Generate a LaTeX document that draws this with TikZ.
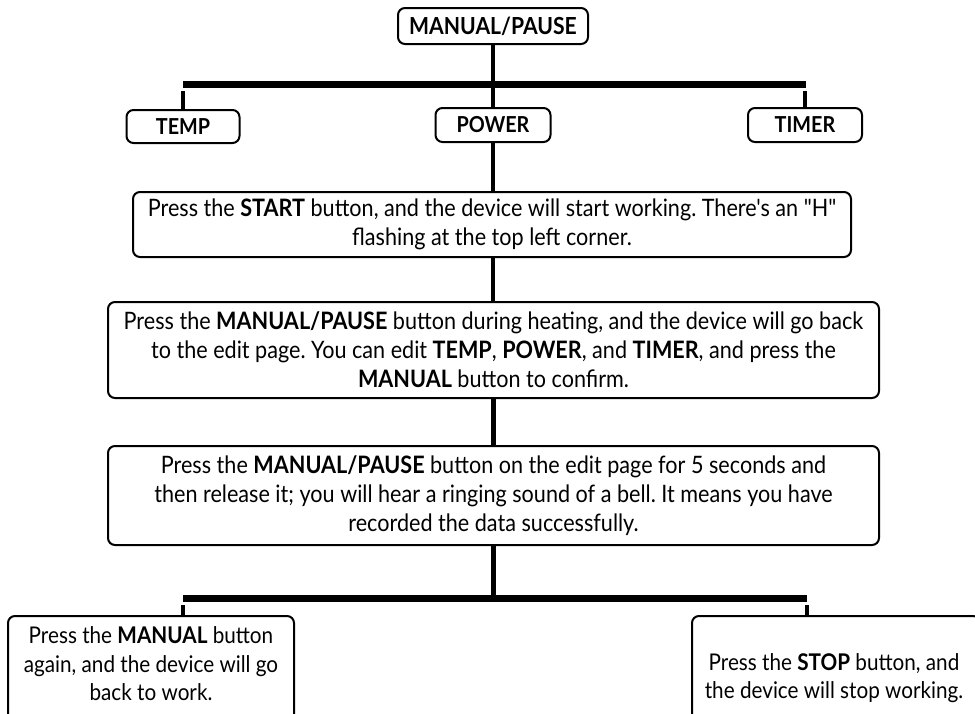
\documentclass[tikz,border=0pt]{standalone}
\usepackage{fontspec}
\setmainfont{Lato}[FakeStretch=0.9,Ligatures=TeXOff]
\usetikzlibrary{fit}
\frenchspacing
\begin{document}
\begin{tikzpicture}[x=1pt,y=-1pt,
  box/.style={draw=black,line width=2pt,rounded corners=7pt,fill=white,inner sep=0pt,align=center,font=\fontsize{24}{29}\selectfont},
  lbl/.style={box,font=\fontsize{22}{24}\selectfont\bfseries},
  txt/.style={inner sep=0pt,align=center,font=\fontsize{23}{28.5}\selectfont},
  conn/.style={line width=4.5pt},
  bar/.style={line width=7pt},
  stub/.style={line width=4.5pt}]
\useasboundingbox[fill=white] (0,0) rectangle (975,713);
\clip (0,0) rectangle (975,713);
% nodes
\node[lbl,minimum width=190pt,minimum height=36pt,font=\fontsize{23.5}{24}\selectfont\bfseries] (top) at (493,26) {MANUAL/PAUSE};
\node[lbl,minimum width=113pt,minimum height=33pt] (temp) at (183,126.5) {TEMP};
\node[lbl,minimum width=115pt,minimum height=34pt] (power) at (493,125) {POWER};
\node[lbl,minimum width=114pt,minimum height=34pt] (timer) at (805,125) {TIMER};
\node[box,minimum width=718pt,minimum height=65pt] (start) at (492,224.5) {Press the \textbf{START} button, and the device will start working. There's an "H"\\flashing at the top left corner.};
\node[box,minimum width=771pt,minimum height=96pt] (pause) at (493.5,350) {Press the \textbf{MANUAL/PAUSE} button during heating, and the device will go back\\to the edit page. You can edit \textbf{TEMP}, \textbf{POWER}, and \textbf{TIMER}, and press the\\\textbf{MANUAL} button to confirm.};
\node[box,minimum width=771pt,minimum height=99pt] (record) at (493.5,495.5) {Press the \textbf{MANUAL/PAUSE} button on the edit page for 5 seconds and\\then release it; you will hear a ringing sound of a bell. It means you have\\recorded the data successfully.};
\node[box,fit={(8,616) (294,730)},inner sep=0pt] (again) {};
\node[txt] (againtxt) at (151,664) {Press the \textbf{MANUAL} button\\again, and the device will go\\back to work.};
\node[box,fit={(692,616) (980,730)},inner sep=0pt] (stop) {};
\node[txt] (stoptxt) at (834,678) {Press the \textbf{STOP} button, and\\the device will stop working.};
% coordinates for bars
\coordinate (b1l) at (183,84);
\coordinate (b1r) at (806,84);
\coordinate (b2l) at (183,598);
\coordinate (b2r) at (807,598);
% connectors
\draw[conn] (top.south) -- (top.south |- b1l);
\draw[bar] (b1l) -- (b1r);
\draw[stub] (temp.north) -- ([yshift=-7pt]temp.north |- b1l);
\draw[stub] (timer.north) -- ([yshift=-7pt]timer.north |- b1r);
\draw[conn] (power.north) -- (power.north |- b1l);
\draw[conn] (power.south) -- (power.south |- start.north);
\draw[conn] (start.south -| power.south) -- (power.south |- pause.north);
\draw[conn] (pause.south) -- (pause.south |- record.north);
\draw[conn] (record.south) -- (record.south |- b2l);
\draw[bar] (b2l) -- (b2r);
\draw[stub] (again.north -| b2l) -- ([yshift=-7pt]b2l);
\draw[stub] (stop.north -| b2r) -- ([yshift=-7pt]b2r);
\end{tikzpicture}
\end{document}
